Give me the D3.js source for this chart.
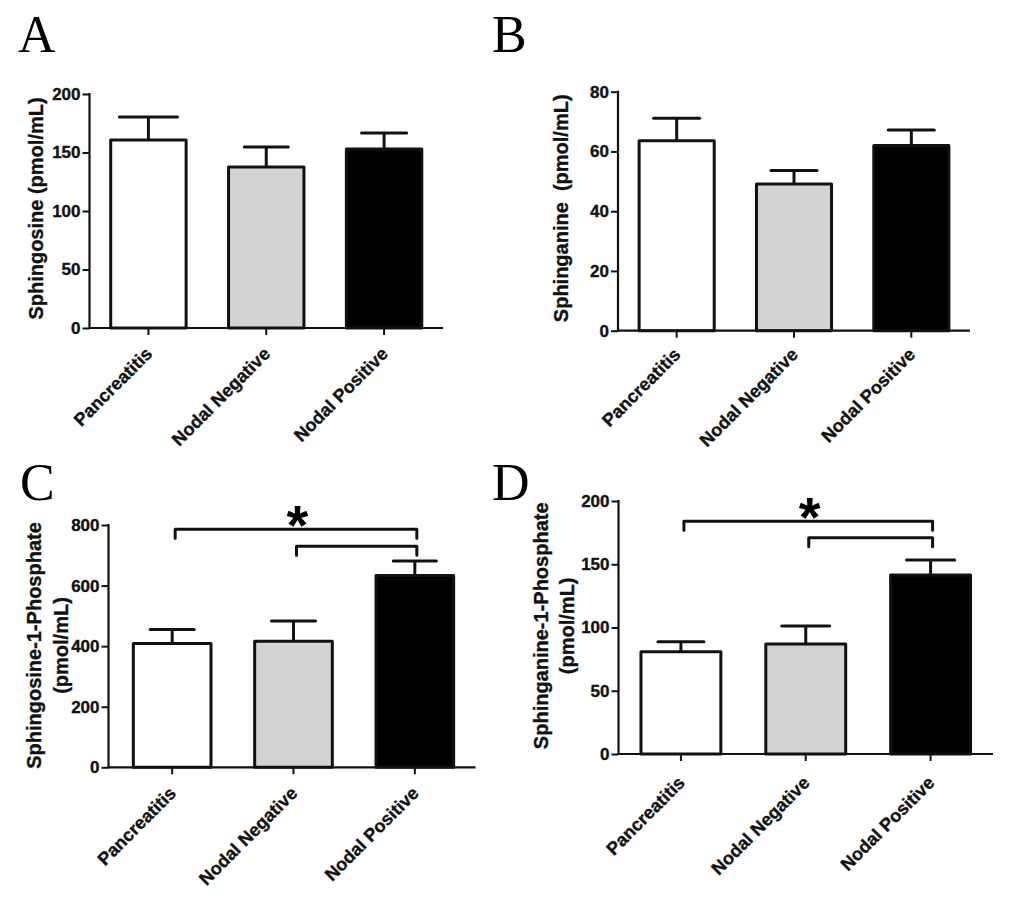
<!DOCTYPE html>
<html>
<head>
<meta charset="utf-8">
<script src="https://cdn.jsdelivr.net/npm/d3@7"></script>
<style>
  html, body { margin: 0; padding: 0; background: #fff; }
  svg { display: block; }
</style>
</head>
<body>
<svg id="chart" width="1024" height="903"></svg>
<script>
// ---------------- DATA ----------------
const categories = ["Pancreatitis", "Nodal Negative", "Nodal Positive"];

const sphingosineMean = [160.7, 137.6, 153.0];
const sphingosineSEM  = [19.6, 17.1, 13.7];
const sphingosineTicks = [0, 50, 100, 150, 200];

const sphinganineMean = [63.6, 49.1, 62.0];
const sphinganineSEM  = [7.5, 4.5, 5.2];
const sphinganineTicks = [0, 20, 40, 60, 80];

const s1pMean = [409, 416, 633];
const s1pSEM  = [46, 67, 48];
const s1pTicks = [0, 200, 400, 600, 800];

const sa1pMean = [80.9, 87.0, 141.5];
const sa1pSEM  = [7.9, 14.2, 11.9];
const sa1pTicks = [0, 50, 100, 150, 200];

// significance brackets (category index pairs, height in data units)
const s1pBracketFrom = [0, 1];
const s1pBracketTo   = [2, 2];
const s1pBracketY    = [786, 730];
const sa1pBracketFrom = [0, 1];
const sa1pBracketTo   = [2, 2];
const sa1pBracketY    = [184, 171];
const sigLabel = "*";

const panelLetters = ["A", "B", "C", "D"];

// ---------------- LAYOUT / STYLE ----------------
const barFills = ["#ffffff", "#d3d3d3", "#000000"];
const ink = "#111";
const sansFont = "'Liberation Sans', Arial, Helvetica, sans-serif";
const serifFont = "'Liberation Serif', 'Times New Roman', serif";

const panels = [
  { letter: panelLetters[0], lx: 18, ly: 52,
    mean: sphingosineMean, sem: sphingosineSEM, ticks: sphingosineTicks,
    axisX: 89.5, xr: [89.5, 443], yr: [328, 94],
    title: ["Sphingosine (pmol/mL)"], titleX: [37], titleY: 208.5,
    capW: [58, 44, 45], labelDy: 27 },
  { letter: panelLetters[1], lx: 492, ly: 52,
    mean: sphinganineMean, sem: sphinganineSEM, ticks: sphinganineTicks,
    axisX: 618, xr: [618, 970], yr: [330.7, 91.7],
    title: ["Sphinganine\u00a0\u00a0(pmol/mL)"], titleX: [561.7], titleY: 208.3,
    capW: [46, 46, 46], labelDy: 25 },
  { letter: panelLetters[2], lx: 20, ly: 500,
    mean: s1pMean, sem: s1pSEM, ticks: s1pTicks,
    axisX: 108.5, xr: [111.5, 475.5], yr: [767.3, 525],
    title: ["Sphingosine-1-Phosphate", "(pmol/mL)"], titleX: [35, 61.7], titleY: 645.5,
    capW: [44, 44, 43], labelDy: 27,
    bFrom: s1pBracketFrom, bTo: s1pBracketTo, bY: s1pBracketY },
  { letter: panelLetters[3], lx: 492, ly: 500,
    mean: sa1pMean, sem: sa1pSEM, ticks: sa1pTicks,
    axisX: 618.5, xr: [618.5, 993], yr: [754, 501],
    title: ["Sphinganine-1-Phosphate", "(pmol/mL)"], titleX: [541.7, 568.3], titleY: 625.8,
    capW: [46, 48, 48], labelDy: 30,
    bFrom: sa1pBracketFrom, bTo: sa1pBracketTo, bY: sa1pBracketY }
];

const svg = d3.select("#chart");

function boldText(sel, size) {
  return sel.attr("font-family", sansFont).attr("font-size", size).attr("font-weight", "bold")
    .attr("fill", ink).attr("stroke", ink).attr("stroke-width", 0.35);
}

panels.forEach(p => {
  const g = svg.append("g");
  const x = d3.scaleBand().domain(categories).range(p.xr).paddingInner(0.36).paddingOuter(0.18);
  const yMax = p.ticks[p.ticks.length - 1];
  const y = d3.scaleLinear().domain([0, yMax]).range(p.yr);
  const y0 = y(0);

  // panel letter
  g.append("text")
    .attr("x", p.lx).attr("y", p.ly)
    .attr("font-family", serifFont).attr("font-size", 52)
    .attr("fill", "#000")
    .text(p.letter);

  // bars
  const rows = categories.map((c, i) => ({ c, i, m: p.mean[i], s: p.sem[i] }));
  g.selectAll("rect.bar").data(rows).enter().append("rect")
    .attr("class", "bar")
    .attr("x", d => x(d.c))
    .attr("width", x.bandwidth())
    .attr("y", d => y(d.m))
    .attr("height", d => y0 - y(d.m))
    .attr("fill", d => barFills[d.i])
    .attr("stroke", ink).attr("stroke-width", 3)
    .attr("stroke-linejoin", "round");

  // error bars (upper only)
  const cx = d => x(d.c) + x.bandwidth() / 2;
  g.selectAll("line.err").data(rows).enter().append("line")
    .attr("x1", cx).attr("x2", cx)
    .attr("y1", d => y(d.m)).attr("y2", d => y(d.m + d.s))
    .attr("stroke", ink).attr("stroke-width", 3);
  g.selectAll("line.cap").data(rows).enter().append("line")
    .attr("x1", d => cx(d) - p.capW[d.i] / 2).attr("x2", d => cx(d) + p.capW[d.i] / 2)
    .attr("y1", d => y(d.m + d.s)).attr("y2", d => y(d.m + d.s))
    .attr("stroke", ink).attr("stroke-width", 3).attr("stroke-linecap", "round");

  // y axis
  const yAxis = d3.axisLeft(y).tickValues(p.ticks).tickSize(7).tickPadding(2).tickSizeOuter(0);
  const ya = g.append("g").attr("transform", `translate(${p.axisX},0)`).call(yAxis);
  ya.select(".domain").remove();
  ya.selectAll(".tick line").attr("stroke", ink).attr("stroke-width", 2);
  boldText(ya.selectAll(".tick text"), 17);
  g.append("line")
    .attr("x1", p.axisX).attr("x2", p.axisX)
    .attr("y1", y(yMax) - 1).attr("y2", y0)
    .attr("stroke", ink).attr("stroke-width", 2.2);

  // x axis
  const xAxis = d3.axisBottom(x).tickSize(7).tickSizeOuter(0).tickFormat("");
  const xa = g.append("g").attr("transform", `translate(0,${y0})`).call(xAxis);
  xa.select(".domain").remove();
  xa.selectAll(".tick line").attr("stroke", ink).attr("stroke-width", 2);
  g.append("line")
    .attr("x1", p.axisX - 1).attr("x2", p.xr[1])
    .attr("y1", y0).attr("y2", y0)
    .attr("stroke", ink).attr("stroke-width", 2.2);

  // category labels
  boldText(g.selectAll("text.cat").data(categories).enter().append("text")
    .attr("class", "cat")
    .attr("transform", c => `translate(${x(c) + x.bandwidth() / 2 + 5},${y0 + p.labelDy}) rotate(-45)`)
    .attr("text-anchor", "end")
    .text(c => c), 18);

  // y title
  p.title.forEach((t, k) => {
    boldText(g.append("text")
      .attr("transform", `translate(${p.titleX[k]},${p.titleY}) rotate(-90)`)
      .attr("text-anchor", "middle")
      .attr("dy", "0.3em")
      .text(t), 20);
  });

  // significance brackets
  if (p.bFrom) {
    const leg = 9;
    p.bFrom.forEach((f, k) => {
      const xa1 = x(categories[f]) + x.bandwidth() / 2 + 3;
      const xa2 = x(categories[p.bTo[k]]) + x.bandwidth() / 2 + 2;
      const yy = y(p.bY[k]);
      g.append("path")
        .attr("d", `M${xa1},${yy + leg} L${xa1},${yy} L${xa2},${yy} L${xa2},${yy + leg}`)
        .attr("fill", "none").attr("stroke", ink).attr("stroke-width", 3)
        .attr("stroke-linejoin", "round").attr("stroke-linecap", "round");
    });
    const top = 0;
    const sx = (x(categories[p.bFrom[top]]) + x(categories[p.bTo[top]]) + x.bandwidth()) / 2 + 4;
    const sy = y(p.bY[top]) - 17;
    g.append("text")
      .attr("x", sx).attr("y", sy + 0.56 * 56)
      .attr("text-anchor", "middle")
      .attr("font-family", sansFont).attr("font-size", 56).attr("font-weight", "bold")
      .attr("fill", "#000")
      .text(sigLabel);
  }
});
</script>
</body>
</html>
